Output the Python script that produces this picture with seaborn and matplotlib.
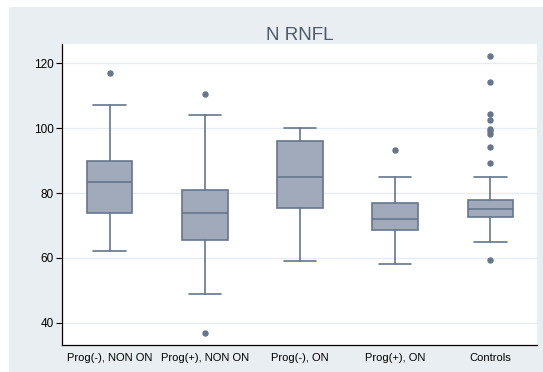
"""Box plot of N RNFL by group (Stata-like look)."""

import matplotlib
matplotlib.use("Agg")
import matplotlib.pyplot as plt
import seaborn as sns
from matplotlib.patches import Rectangle

groups = ["Prog(-), NON ON", "Prog(+), NON ON", "Prog(-), ON", "Prog(+), ON", "Controls"]
whis_low = [62, 49, 59, 58, 65]
q1 = [74, 65.5, 75.5, 68.5, 72.5]
median = [83.5, 74, 85, 72, 75]
q3 = [90, 81, 96, 77, 78]
whis_high = [107, 104, 100, 85, 85]
outliers = [
    [117],
    [110.5, 37],
    [],
    [93.2],
    [122.3, 114.2, 104.3, 102.4, 99.6, 99.0, 98.2, 94.2, 89.3, 59.4],
]
yticks = [40, 60, 80, 100, 120]

sns.set_theme(style="white")
plt.rcParams["font.family"] = ["Liberation Sans", "DejaVu Sans"]

bg = "#E9EEF2"
box_fill = "#A0AABA"
box_edge = "#66768C"

fig = plt.figure(figsize=(5.43, 3.72), dpi=100)
fig.patch.set_facecolor("white")
# grey graph region, leaving a thin white margin top/left like the original
fig.patches.append(Rectangle((9 / 543, 0), 1 - 9 / 543, 1 - 7 / 372,
                             transform=fig.transFigure, facecolor=bg,
                             edgecolor="none", zorder=-10))

ax = fig.add_axes([62 / 543, 27 / 372, 475 / 543, 301 / 372])
ax.set_facecolor("white")

stats = []
for i, name in enumerate(groups):
    stats.append(dict(label=name, whislo=whis_low[i], q1=q1[i], med=median[i],
                      q3=q3[i], whishi=whis_high[i], fliers=outliers[i]))

ax.bxp(stats, positions=range(1, len(groups) + 1), widths=0.48, patch_artist=True,
       boxprops=dict(facecolor=box_fill, edgecolor=box_edge, linewidth=1.2),
       medianprops=dict(color=box_edge, linewidth=1.2),
       whiskerprops=dict(color=box_edge, linewidth=1.2),
       capprops=dict(color=box_edge, linewidth=1.2),
       capwidths=0.34,
       flierprops=dict(marker="o", markersize=3.6, markerfacecolor=box_edge,
                       markeredgecolor=box_edge))

ax.set_xlim(0.5, 5.49)
ax.set_ylim(33.2, 125.9)
ax.set_yticks(yticks)
ax.set_yticklabels([str(t) for t in yticks], fontsize=8.5, color="black")
ax.set_xticklabels(groups, fontsize=8, color="black")
ax.tick_params(axis="x", length=0, pad=6)
ax.tick_params(axis="y", left=True, length=4, width=0.8, color="black", pad=2)
ax.yaxis.grid(True, color="#E6ECF1", linewidth=1)
ax.set_axisbelow(True)

for side in ["top", "right"]:
    ax.spines[side].set_visible(False)
for side in ["left", "bottom"]:
    ax.spines[side].set_color("black")
    ax.spines[side].set_linewidth(0.9)

ax.set_title("N RNFL", fontsize=13.5, color="#505A6A", pad=3)

fig.savefig("out.png", dpi=100, facecolor=fig.get_facecolor())
plt.close(fig)
